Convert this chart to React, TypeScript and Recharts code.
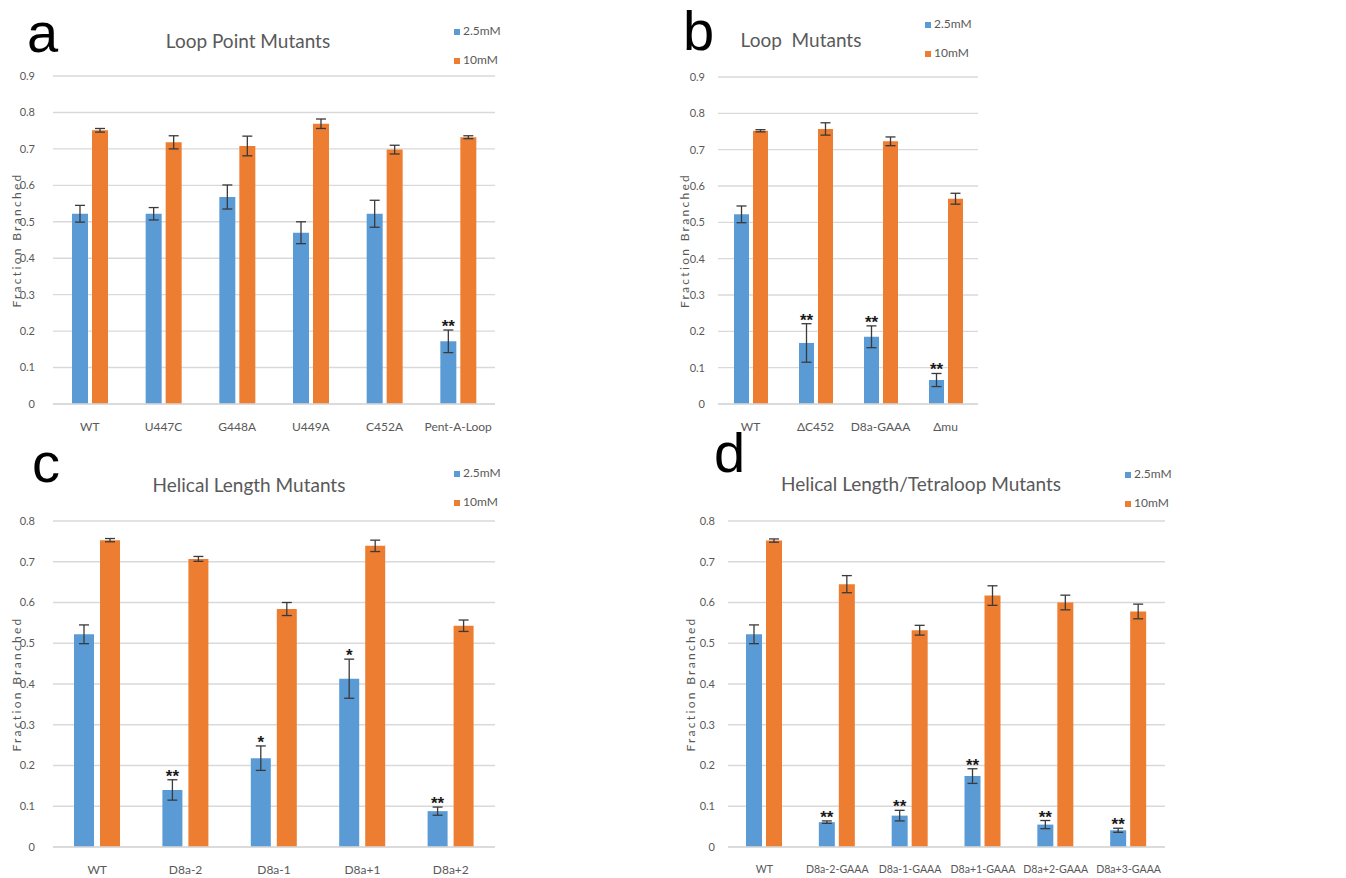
import React from "react";
import { BarChart, Bar, XAxis, YAxis, CartesianGrid, ErrorBar, LabelList, Legend } from "recharts";

const BLUE = "#5B9BD5";
const ORANGE = "#ED7D31";
const GRID = "#D9D9D9";
const TEXT = "#595959";
const FONT = "Lato, 'Open Sans', sans-serif";

const seriesNames = ["2.5mM", "10mM"];
const ticks09 = [0, 0.1, 0.2, 0.3, 0.4, 0.5, 0.6, 0.7, 0.8, 0.9];
const ticks08 = [0, 0.1, 0.2, 0.3, 0.4, 0.5, 0.6, 0.7, 0.8];

// a - loop point mutants
const catsA = ["WT", "U447C", "G448A", "U449A", "C452A", "Pent-A-Loop"];
const lowA = [0.522, 0.522, 0.568, 0.47, 0.522, 0.172];
const lowErrA = [0.023, 0.017, 0.033, 0.03, 0.037, 0.031];
const highA = [0.751, 0.718, 0.708, 0.769, 0.698, 0.732];
const highErrA = [0.005, 0.018, 0.027, 0.013, 0.012, 0.004];
const sigA = ["", "", "", "", "", "**"];

// b - loop mutants
const catsB = ["WT", "ΔC452", "D8a-GAAA", "Δmu"];
const lowB = [0.522, 0.168, 0.185, 0.066];
const lowErrB = [0.023, 0.053, 0.03, 0.018];
const highB = [0.752, 0.757, 0.723, 0.565];
const highErrB = [0.003, 0.017, 0.012, 0.015];
const sigB = ["", "**", "**", "**"];

// c - helical length mutants
const catsC = ["WT", "D8a-2", "D8a-1", "D8a+1", "D8a+2"];
const lowC = [0.522, 0.14, 0.218, 0.413, 0.088];
const lowErrC = [0.023, 0.025, 0.03, 0.048, 0.01];
const highC = [0.753, 0.707, 0.584, 0.739, 0.543];
const highErrC = [0.004, 0.006, 0.016, 0.014, 0.014];
const sigC = ["", "**", "*", "*", "**"];

// d - helical length / tetraloop mutants
const catsD = ["WT", "D8a-2-GAAA", "D8a-1-GAAA", "D8a+1-GAAA", "D8a+2-GAAA", "D8a+3-GAAA"];
const lowD = [0.522, 0.061, 0.077, 0.174, 0.055, 0.041];
const lowErrD = [0.023, 0.003, 0.013, 0.018, 0.01, 0.005];
const highD = [0.752, 0.645, 0.532, 0.617, 0.6, 0.578];
const highErrD = [0.004, 0.021, 0.012, 0.024, 0.018, 0.018];
const sigD = ["", "**", "**", "**", "**", "**"];

const panels = [
  {
    letter: "a", title: "Loop Point Mutants", cats: catsA, low: lowA, lowErr: lowErrA, high: highA, highErr: highErrA, sig: sigA,
    left: 0, top: 0, width: 530, height: 440, mt: 76, mr: 35, yw: 53, xh: 36, yMax: 0.9, ticks: ticks09,
    barSize: 16, barGap: 4, yTickMargin: 12, ylabX: 16, legX: 454, legY: 16, xFont: 12,
    titleX: 248, titleY: 48, letterX: 27, letterY: 52,
  },
  {
    letter: "b", title: "Loop  Mutants", cats: catsB, low: lowB, lowErr: lowErrB, high: highB, highErr: highErrB, sig: sigB,
    left: 660, top: 0, width: 340, height: 440, mt: 77, mr: 22, yw: 58, xh: 36, yMax: 0.9, ticks: ticks09,
    barSize: 15, barGap: 4, yTickMargin: 7, ylabX: 24, legX: 265, legY: 9, xFont: 12,
    titleX: 801, titleY: 47, letterX: 683, letterY: 50,
  },
  {
    letter: "c", title: "Helical Length Mutants", cats: catsC, low: lowC, lowErr: lowErrC, high: highC, highErr: highErrC, sig: sigC,
    left: 0, top: 440, width: 530, height: 438, mt: 81, mr: 35, yw: 53, xh: 31, yMax: 0.8, ticks: ticks08,
    barSize: 20, barGap: 6, yTickMargin: 12, ylabX: 16, legX: 454, legY: 18, xFont: 12,
    titleX: 249, titleY: 492, letterX: 32, letterY: 482,
  },
  {
    letter: "d", title: "Helical Length/Tetraloop Mutants", cats: catsD, low: lowD, lowErr: lowErrD, high: highD, highErr: highErrD, sig: sigD,
    left: 660, top: 440, width: 540, height: 438, mt: 81, mr: 35, yw: 68, xh: 31, yMax: 0.8, ticks: ticks08,
    barSize: 16, barGap: 4, yTickMargin: 7, ylabX: 30, legX: 465, legY: 19, xFont: 10.6,
    titleX: 921, titleY: 491, letterX: 714, letterY: 472,
  },
];

function LegendBox() {
  return (
    <div style={{ fontFamily: FONT, fontSize: 12, color: TEXT }}>
      {seriesNames.map((n, i) => (
        <div key={n} style={{ height: 29, lineHeight: "29px", whiteSpace: "nowrap" }}>
          <span style={{ display: "inline-block", width: 6, height: 6, background: i === 0 ? BLUE : ORANGE, marginRight: 3, verticalAlign: "middle" }} />
          {n}
        </div>
      ))}
    </div>
  );
}

function Panel({ p }: { p: any }) {
  const data = p.cats.map((c: string, i: number) => ({
    name: c,
    low: p.low[i],
    lowErr: p.lowErr[i],
    high: p.high[i],
    highErr: p.highErr[i],
    sig: p.sig[i],
  }));
  const plotH = p.height - p.mt - p.xh;
  const pxPerUnit = plotH / p.yMax;

  // significance stars sit just above the 2.5mM error bar
  const renderSig = (props: any) => {
    const vb = props.viewBox || props;
    const idx = props.index;
    const value = props.value;
    if (!value) return null;
    const errTop = vb.y - data[idx].lowErr * pxPerUnit;
    return (
      <text x={vb.x + vb.width / 2} y={errTop + 2} textAnchor="middle" fontSize={17} fontWeight="bold" fill="#1a1a1a" fontFamily="'Liberation Sans', sans-serif">
        {value}
      </text>
    );
  };

  const renderYLabel = () => (
    <text
      transform={`translate(${p.ylabX}, ${p.mt + plotH / 2}) rotate(-90)`}
      textAnchor="middle"
      dominantBaseline="central"
      fontSize={12}
      fill={TEXT}
      fontFamily={FONT}
      letterSpacing={2.3}
    >
      Fraction Branched
    </text>
  );

  return (
    <div style={{ position: "absolute", left: p.left, top: p.top }}>
      <BarChart
        width={p.width}
        height={p.height}
        data={data}
        margin={{ top: p.mt, right: p.mr, left: 0, bottom: 0 }}
        barSize={p.barSize}
        barGap={p.barGap}
      >
        <CartesianGrid vertical={false} stroke={GRID} strokeWidth={1.4} />
        <XAxis
          dataKey="name"
          height={p.xh}
          interval={0}
          tickLine={false}
          axisLine={{ stroke: GRID, strokeWidth: 1.4 }}
          tickMargin={12}
          tick={{ fontSize: p.xFont, fill: TEXT, fontFamily: FONT }}
        />
        <YAxis
          width={p.yw}
          domain={[0, p.yMax]}
          ticks={p.ticks}
          axisLine={false}
          tickLine={false}
          tickMargin={p.yTickMargin}
          tick={{ fontSize: 11, fill: TEXT, fontFamily: FONT }}
          label={{ content: renderYLabel }}
        />
        <Legend
          layout="horizontal"
          verticalAlign="middle"
          align="center"
          wrapperStyle={{ left: p.legX, top: p.legY, width: 70 }}
          content={() => <LegendBox />}
        />
        <Bar dataKey="low" name={seriesNames[0]} fill={BLUE} isAnimationActive={false}>
          <ErrorBar dataKey="lowErr" width={5} stroke="#3a3a3a" strokeWidth={1.3} direction="y" />
          <LabelList dataKey="sig" content={renderSig} />
        </Bar>
        <Bar dataKey="high" name={seriesNames[1]} fill={ORANGE} isAnimationActive={false}>
          <ErrorBar dataKey="highErr" width={5} stroke="#3a3a3a" strokeWidth={1.3} direction="y" />
        </Bar>
      </BarChart>
    </div>
  );
}

export default function App() {
  return (
    <div style={{ position: "absolute", left: 0, top: 0, width: 1346, height: 878, background: "#fff", overflow: "hidden" }}>
      <svg width={1346} height={878} style={{ position: "absolute", left: 0, top: 0 }}>
        {panels.map((p) => (
          <g key={p.letter}>
            <text x={p.letterX} y={p.letterY} fontSize={56} fill="#000" fontFamily="'Liberation Sans', sans-serif">
              {p.letter}
            </text>
            <text x={p.titleX} y={p.titleY} textAnchor="middle" fontSize={19} fill={TEXT} fontFamily={FONT} style={{ whiteSpace: "pre" }}>
              {p.title}
            </text>
          </g>
        ))}
      </svg>
      {panels.map((p) => (
        <Panel key={p.letter} p={p} />
      ))}
    </div>
  );
}
